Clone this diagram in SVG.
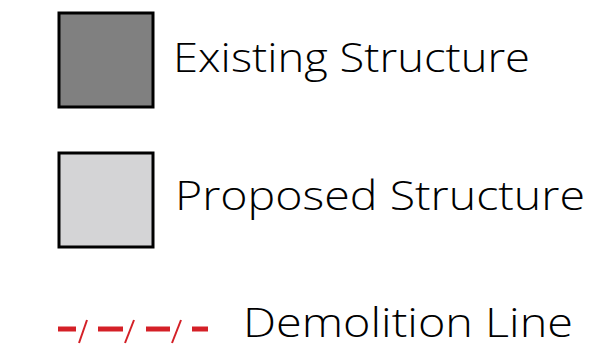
<svg xmlns="http://www.w3.org/2000/svg" width="599" height="351" viewBox="0 0 599 351">
<style>
.lbl{font-family:"Open Sans","Liberation Sans",sans-serif;font-size:40px;font-weight:300;fill:#000}
.box{stroke:#000;stroke-width:3}
.dash{stroke:#d42027;stroke-width:5;fill:none}
.slash{stroke:#d42027;stroke-width:2;fill:none}
</style>
<rect width="599" height="351" fill="#fff"/>
<g id="existing">
<rect class="box" x="59" y="13" width="94" height="94" fill="#808080"/>
<text class="lbl" x="173" y="72" textLength="357" lengthAdjust="spacingAndGlyphs">Existing Structure</text>
</g>
<g id="proposed">
<rect class="box" x="59" y="153" width="94" height="94" fill="#d4d4d6"/>
<text class="lbl" x="175" y="210" textLength="410" lengthAdjust="spacingAndGlyphs">Proposed Structure</text>
</g>
<g id="demolition">
<g>
<line class="dash" x1="58" y1="329" x2="76" y2="329"/>
<line class="slash" x1="79" y1="343" x2="87" y2="320"/>
<line class="dash" x1="98" y1="329" x2="123" y2="329"/>
<line class="slash" x1="125" y1="343" x2="134" y2="320"/>
<line class="dash" x1="146" y1="329" x2="170" y2="329"/>
<line class="slash" x1="172" y1="343" x2="181" y2="320"/>
<line class="dash" x1="192" y1="329" x2="208" y2="329"/>
</g>
<text class="lbl" x="243" y="337" textLength="330" lengthAdjust="spacingAndGlyphs">Demolition Line</text>
</g>
</svg>
